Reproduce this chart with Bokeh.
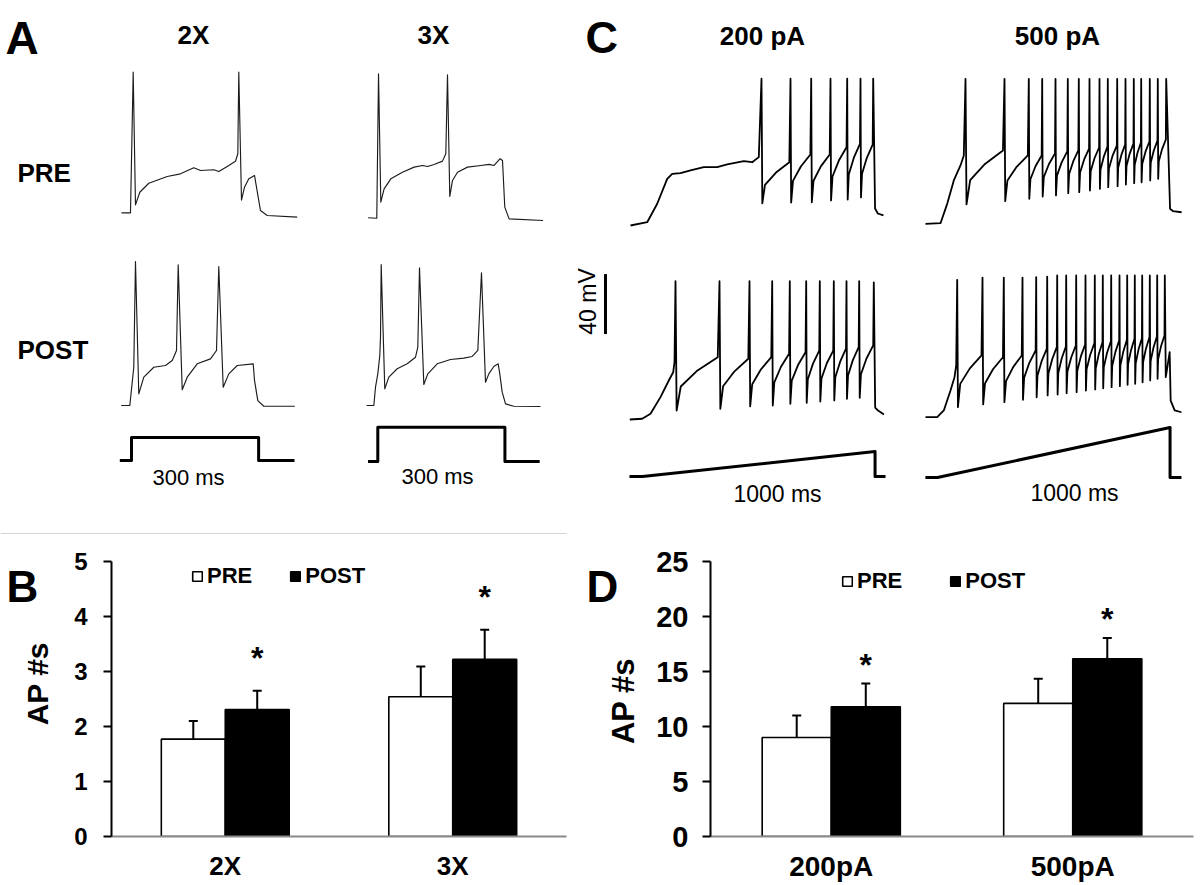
from bokeh.plotting import figure
from bokeh.models import (Range1d, FactorRange, Label, Legend, LegendItem,
                          ColumnDataSource, FixedTicker)
from bokeh.layouts import column, row
from bokeh.transform import dodge
from bokeh.core.properties import value
from bokeh.embed import file_html
from bokeh.resources import INLINE

FONT = "Liberation Sans"

# ====================== DATA ======================
# ---- Panel A: step-evoked firing (time ms from step onset, membrane potential mV)
a2x_pre_t = [-23.6, -2.4, 4.0, 9.4, 19.6, 40.8, 84.3, 115.6, 147.0, 162.8, 194.2, 206.0,
             225.9, 245.4, 250.9, 253.2, 259.6, 266.7, 276.8, 290.3, 295.0, 304.4, 320.3, 391.0]
a2x_pre_v = [-70.0, -70.0, 23.8, -64.7, -56.3, -50.3, -45.8, -44.0, -40.0, -41.8, -41.3, -42.5,
             -39.1, -35.6, -30.6, 23.8, -61.5, -52.9, -47.3, -45.1, -52.9, -68.5, -71.8, -72.9]

a3x_pre_t = [-22.9, -2.4, 1.7, 7.1, 14.9, 30.7, 58.3, 85.7, 105.5, 117.3, 132.9, 152.7, 160.5,
             164.5, 169.9, 176.3, 188.1, 211.7, 243.1, 262.7, 274.5, 288.6, 294.3, 299.7, 309.9, 390.1]
a3x_pre_v = [-70.0, -70.3, 26.0, -59.6, -50.7, -44.0, -39.6, -36.2, -35.1, -35.8, -34.4, -32.2, -27.3,
             25.4, -55.8, -45.1, -39.6, -36.2, -35.1, -34.4, -35.1, -30.6, -31.8, -62.9, -70.7, -71.8]

a2x_post_t = [-24.3, -4.0, 5.4, 9.4, 17.2, 29.0, 52.6, 80.2, 96.1, 106.2, 110.2, 119.7, 131.5,
              155.1, 186.4, 200.6, 206.0, 216.4, 229.6, 249.5, 287.2, 290.3, 298.1, 312.2, 385.4]
a2x_post_v = [-70.0, -70.0, -44.5, 26.0, -62.2, -51.1, -44.5, -43.3, -40.0, -33.3, 23.8, -59.5, -51.1,
              -42.2, -38.9, -33.3, 22.7, -57.8, -48.9, -43.3, -42.2, -53.3, -66.7, -70.5, -70.5]

a3x_post_t = [-26.7, -9.4, -5.4, 0.0, 4.7, 6.4, 8.0, 16.5, 26.0, 45.8, 69.4, 89.0, 94.4, 98.4,
              108.6, 118.0, 140.2, 171.6, 203.0, 222.8, 236.0, 244.7, 254.2, 262.0, 273.8, 284.1,
              287.9, 293.6, 301.4, 321.0, 384.0]
a3x_post_v = [-70.0, -70.0, -57.8, -48.9, -36.7, -24.4, 24.0, -58.9, -51.1, -45.5, -42.2, -37.8, -31.1, 21.8,
              -56.0, -48.9, -42.2, -39.3, -38.4, -37.3, -33.3, 18.5, -54.5, -48.9, -44.0, -42.2,
              -48.9, -61.1, -68.9, -70.5, -70.7]

# step stimulus (x rheobase)
step2x_t = [-27.6, 0, 0, 300, 300, 384.7]
step2x_i = [0, 0, 2, 2, 0, 0]
step3x_t = [-23.0, 0, 0, 300, 300, 382.0]
step3x_i = [0, 0, 3, 3, 0, 0]

# ---- Panel C: ramp-evoked firing
# 200 pA PRE
c200pre_lead_t = [-51.6, 20.2, 63.2, 106.2, 127.7, 163.4, 206.4, 263.6, 321.2, 364.2, 435.6, 471.7, 500.1]
c200pre_lead_v = [-70.0, -67.8, -55.5, -38.9, -35.5, -35.1, -33.3, -31.1, -31.1, -29.3, -27.1, -27.8, -24.4]
c200pre_spk_t = [511.7, 636.4, 725.4, 808.4, 880.2, 937.4, 992.0]
c200pre_peak = [28.0, 28.0, 28.0, 28.0, 28.0, 28.0, 28.0]
c200pre_trough = [-55.3, -54.7, -54.5, -53.3, -52.7, -51.3]
c200pre_thr = [-27.8, -22.6, -22.6, -17.8, -15.5, -16.0]
c200pre_tail_t = [1000.0, 1012.0, 1036.0]
c200pre_tail_v = [-58.7, -62.0, -63.3]

# 500 pA PRE
c500pre_lead_t = [-51.6, 12.9, 41.7, 70.1, 98.9, 113.1]
c500pre_lead_v = [-70.0, -69.6, -56.7, -41.1, -31.1, -24.4]
c500pre_spk_t = [120.4, 288.1, 392.6, 450.2, 507.4, 560.3, 607.6, 653.6, 696.6, 732.3, 772.7,
                 808.4, 844.1, 875.9, 912.9, 947.3, 983.4]
c500pre_peak = [26.7, 26.7, 26.7, 26.7, 26.7, 26.7, 26.7, 26.7, 26.7, 26.7, 26.7,
                26.7, 26.7, 26.7, 26.7, 26.7, 26.7]
c500pre_trough = [-57.1, -54.9, -53.3, -51.8, -51.1, -49.6, -48.9, -47.8, -46.7, -45.6, -44.9,
                  -43.8, -42.9, -42.3, -41.1, -40.0]
c500pre_thr = [-21.1, -24.4, -24.4, -23.1, -21.7, -21.1, -19.8, -19.1, -18.5, -17.8, -17.1,
               -16.5, -15.8, -15.1, -14.5, -13.8]
c500pre_tail_t = [1000.0, 1012.0, 1049.7]
c500pre_tail_v = [-60.0, -61.5, -62.3]

# 200 pA POST
c200post_lead_t = [-54.6, -1.3, 34.4, 77.4, 113.1, 132.0, 137.6]
c200post_lead_v = [-70.0, -69.5, -66.2, -55.1, -44.0, -38.5, -31.8]
c200post_spk_t = [141.9, 331.1, 460.1, 557.7, 633.4, 703.9, 762.4, 822.6, 877.2, 931.8, 994.6]
c200post_peak = [22.2, 22.2, 22.2, 22.2, 22.2, 22.2, 22.2, 22.2, 22.2, 22.2, 21.5]
c200post_trough = [-64.0, -62.9, -61.3, -60.7, -59.5, -58.9, -58.0, -57.3, -56.2, -55.5]
c200post_thr = [-28.4, -29.5, -28.4, -26.2, -25.1, -24.0, -24.0, -22.8, -21.8, -20.6]
c200post_tail_t = [1000.5, 1013.0, 1038.0]
c200post_tail_v = [-62.0, -64.0, -66.7]

# 500 pA POST
c500post_lead_t = [-51.6, -1.3, 27.1, 55.9, 73.1, 80.4]
c500post_lead_v = [-70.0, -70.0, -65.5, -52.2, -43.3, -35.5]
c500post_spk_t = [84.7, 193.5, 285.1, 365.5, 424.4, 471.7, 514.7, 553.4, 596.4, 636.4, 676.4,
                  710.8, 746.9, 782.6, 815.7, 848.4, 880.2, 912.9, 944.7, 977.4]
c500post_peak = [21.6, 23.0, 23.0, 23.0, 23.4, 23.8, 24.5, 24.5, 24.5, 24.5, 24.5,
                 24.5, 24.5, 24.5, 24.5, 24.5, 24.5, 24.5, 24.5, 24.5]
c500post_trough = [-63.3, -61.5, -60.0, -58.4, -56.7, -55.5, -54.9, -54.0, -53.3, -52.2, -51.5,
                   -50.7, -50.0, -49.3, -48.4, -47.7, -46.7, -45.5, -44.4]
c500post_thr = [-28.8, -30.0, -28.8, -25.5, -24.4, -23.3, -22.8, -22.2, -21.5, -20.6, -20.0,
                -19.3, -18.8, -18.4, -17.7, -17.3, -16.6, -16.2, -15.5]
c500post_tail_t = [981.5, 987.1, 998.3, 1002.6, 1019.8, 1049.0]
c500post_tail_v = [-43.3, -38.0, -26.6, -58.9, -65.5, -66.7]

# ramp stimulus (pA)
ramp200_t = [-56.0, 0, 1000, 1000, 1045]
ramp200_i = [0, 0, 200, 0, 0]
ramp500_t = [-52.0, 0, 1000, 1000, 1049]
ramp500_i = [0, 0, 500, 0, 0]

SCALEBAR_MV = 40

# ---- Panel B / D: AP counts (mean, SEM)
b_cats = ["2X", "3X"]
b_pre = [1.77, 2.54]
b_pre_err = [0.33, 0.55]
b_post = [2.31, 3.22]
b_post_err = [0.34, 0.54]
b_sig = ["*", "*"]

d_cats = ["200pA", "500pA"]
d_pre = [9.0, 12.1]
d_pre_err = [2.0, 2.25]
d_post = [11.8, 16.15]
d_post_err = [2.1, 1.9]
d_sig = ["*", "*"]

# ====================== LAYOUT GEOMETRY (page px) ======================
W, HT, HB = 1200, 535, 349


def spike_train(lead_t, lead_v, spk_t, peak, trough, thr, tail_t, tail_v):
    t, v = list(lead_t), list(lead_v)
    n = len(spk_t)
    for i in range(n):
        t.append(spk_t[i]); v.append(peak[i])
        if i < n - 1:
            isi = spk_t[i + 1] - spk_t[i]
            lo, hi = trough[i], thr[i]
            t += [spk_t[i] + 1 + 0.02 * isi, spk_t[i] + 0.12 * isi,
                  spk_t[i] + 0.5 * isi, spk_t[i + 1] - 0.04 * isi]
            v += [lo, lo + 0.45 * (hi - lo), lo + 0.75 * (hi - lo), hi]
    t += list(tail_t); v += list(tail_v)
    return t, v


def canvas(width, height, x0, y0):
    f = figure(width=width, height=height, x_range=Range1d(x0, x0 + width),
               y_range=Range1d(y0 + height, y0), output_backend="svg", toolbar_location=None,
               min_border=0, x_axis_location=None, y_axis_location=None, outline_line_color=None)
    f.xgrid.visible = False
    f.ygrid.visible = False
    return f


top = canvas(W, HT, 0, 0)

xr, yr = {}, {}


def add_x(name, X_on, ms_per_px):
    xr[name] = Range1d((0 - X_on) * ms_per_px, (W - X_on) * ms_per_px)


def add_y(name, Y_ref, v_ref, per_px):
    yr[name] = Range1d(v_ref + (Y_ref - HT) * per_px, v_ref + (Y_ref - 0) * per_px)


A_MS, C_MS, MVPX = 2.36, 4.3, 0.667
add_x("a2x", 131.0, A_MS)
add_x("a3x", 377.3, A_MS)
add_x("c200", 642.0, C_MS)
add_x("c500", 937.0, C_MS)
add_y("a2x_pre", 212.3, -70, MVPX)
add_y("a3x_pre", 217.3, -70, MVPX)
add_y("a2x_post", 405.0, -70, MVPX)
add_y("a3x_post", 405.0, -70, MVPX)
add_y("c200_pre", 225.0, -70, MVPX)
add_y("c500_pre", 223.3, -70, MVPX)
add_y("c200_post", 419.0, -70, MVPX)
add_y("c500_post", 416.7, -70, MVPX)
add_y("a2x_stim", 460.0, 0, 1 / 11.5)
add_y("a3x_stim", 461.0, 0, 1 / 11.4)
add_y("c200_stim", 476.0, 0, 8.0)
add_y("c500_stim", 477.0, 0, 10.0)
top.extra_x_ranges = xr
top.extra_y_ranges = yr

A_COL, A_W = "#1c1c1c", 1.15
C_COL, C_W = "#000000", 1.8


def trace(t, v, xn, yn, color, lw):
    top.line(t, v, x_range_name=xn, y_range_name=yn, line_color=color, line_width=lw,
             line_join="round")


trace(a2x_pre_t, a2x_pre_v, "a2x", "a2x_pre", A_COL, A_W)
trace(a3x_pre_t, a3x_pre_v, "a3x", "a3x_pre", A_COL, A_W)
trace(a2x_post_t, a2x_post_v, "a2x", "a2x_post", A_COL, A_W)
trace(a3x_post_t, a3x_post_v, "a3x", "a3x_post", A_COL, A_W)
trace(step2x_t, step2x_i, "a2x", "a2x_stim", "black", 3)
trace(step3x_t, step3x_i, "a3x", "a3x_stim", "black", 3)

for nm, xn, yn in [("c200pre", "c200", "c200_pre"), ("c500pre", "c500", "c500_pre"),
                   ("c200post", "c200", "c200_post"), ("c500post", "c500", "c500_post")]:
    g = globals()
    tt, vv = spike_train(g[nm + "_lead_t"], g[nm + "_lead_v"], g[nm + "_spk_t"], g[nm + "_peak"],
                         g[nm + "_trough"], g[nm + "_thr"], g[nm + "_tail_t"], g[nm + "_tail_v"])
    trace(tt, vv, xn, yn, C_COL, C_W)

trace(ramp200_t, ramp200_i, "c200", "c200_stim", "black", 3)
trace(ramp500_t, ramp500_i, "c500", "c500_stim", "black", 3)

# 40 mV scale bar
trace([-159, -159], [-13, -13 + SCALEBAR_MV], "c200", "c200_post", "black", 3)

# separator line
top.line([0, 566], [533, 533], line_color="#d4d4d4", line_width=1.2)


def lab(fig, x, y, text, size, bold=True, align="left", angle=0.0, baseline="alphabetic"):
    fig.add_layout(Label(x=x, y=y, text=text, text_font=FONT, text_font_size=size,
                         text_font_style="bold" if bold else "normal", text_align=align,
                         text_baseline=baseline, text_color="black", angle=angle))


lab(top, 5, 37, "A", "46px")
lab(top, 193, 34, "2X", "26px", align="center")
lab(top, 433, 34, "3X", "26px", align="center")
lab(top, 585, 37, "C", "45px")
lab(top, 762, 35, "200 pA", "26px", align="center")
lab(top, 1057, 35, "500 pA", "26px", align="center")
lab(top, 17, 172, "PRE", "26px")
lab(top, 17, 349, "POST", "26px")
lab(top, 188, 477, "300 ms", "22px", bold=False, align="center")
lab(top, 437, 476, "300 ms", "22px", bold=False, align="center")
lab(top, 777, 493, "1000 ms", "23px", bold=False, align="center")
lab(top, 1074, 492, "1000 ms", "23px", bold=False, align="center")
lab(top, 587, 301, "40 mV", "23px", bold=False, align="center", angle=1.5708)


# ====================== BAR CHARTS ======================
def bar_panel(cats, pre, pre_err, post, post_err, sig, ymax, yticks, width, borders,
              tick_fs, cat_fs, tl_standoff, bw, leg_loc, leg_spacing, star_off):
    bl, br, bt, bb = borders
    p = figure(width=width, height=HB, x_range=FactorRange(factors=cats, range_padding=0),
               y_range=Range1d(0, ymax), output_backend="svg", toolbar_location=None,
               min_border_left=bl, min_border_right=br, min_border_top=bt, min_border_bottom=bb)
    p.outline_line_color = None
    p.xgrid.visible = False
    p.ygrid.visible = False
    src = ColumnDataSource(dict(cat=cats, pre=pre, post=post,
                                pre_hi=[a + b for a, b in zip(pre, pre_err)],
                                post_hi=[a + b for a, b in zip(post, post_err)], sig=sig))
    off = bw / 2
    r_pre = p.vbar(x=dodge("cat", -off, range=p.x_range), top="pre", width=bw, source=src,
                   fill_color="white", line_color="black", line_width=1.6)
    r_post = p.vbar(x=dodge("cat", off, range=p.x_range), top="post", width=bw, source=src,
                    fill_color="black", line_color="black", line_width=1.6)
    for o, lo, hi in [(-off, "pre", "pre_hi"), (off, "post", "post_hi")]:
        p.segment(x0=dodge("cat", o, range=p.x_range), y0=lo, x1=dodge("cat", o, range=p.x_range),
                  y1=hi, source=src, line_color="black", line_width=2)
        p.scatter(x=dodge("cat", o, range=p.x_range), y=hi, marker="dash", size=9,
                  line_width=2, line_color="black", source=src)
    p.text(x=dodge("cat", off, range=p.x_range), y="post_hi", text="sig", source=src,
           text_font=value(FONT), text_font_style="bold", text_font_size="32px",
           text_align="center", text_baseline="alphabetic", y_offset=star_off, text_color="black")

    ya = p.yaxis[0]
    ya.ticker = FixedTicker(ticks=yticks)
    ya.axis_line_color = "black"
    ya.axis_line_width = 2
    ya.major_tick_line_color = "black"
    ya.major_tick_line_width = 2
    ya.major_tick_out = 8
    ya.major_tick_in = 0
    ya.minor_tick_out = 0
    ya.minor_tick_in = 0
    ya.major_label_text_font = FONT
    ya.major_label_text_font_style = "bold"
    ya.major_label_text_font_size = tick_fs
    ya.major_label_text_color = "black"
    ya.major_label_standoff = tl_standoff

    xa = p.xaxis[0]
    xa.axis_line_color = "#8a8a8a"
    xa.axis_line_width = 2
    xa.major_tick_out = 0
    xa.major_tick_in = 0
    xa.major_tick_line_color = None
    xa.major_label_text_font = FONT
    xa.major_label_text_font_style = "bold"
    xa.major_label_text_font_size = cat_fs
    xa.major_label_text_color = "black"
    xa.major_label_standoff = 14

    leg = Legend(items=[LegendItem(label="PRE", renderers=[r_pre]),
                        LegendItem(label="POST", renderers=[r_post])],
                 orientation="horizontal", location=leg_loc, glyph_width=12, glyph_height=12,
                 label_standoff=4, spacing=leg_spacing, padding=0, margin=0,
                 border_line_color=None, background_fill_alpha=0, label_height=12,
                 label_text_font=FONT, label_text_font_style="bold", label_text_font_size="22px",
                 label_text_color="black")
    p.add_layout(leg)
    return p


# strips carrying the panel letters and the y-axis titles
sB = canvas(60, HB, 0, HT)
lab(sB, 6, 567, "B", "44px")
lab(sB, 37, 690, "AP #s", "30px", align="center", angle=1.5708, baseline="middle")

pB = bar_panel(b_cats, b_pre, b_pre_err, b_post, b_post_err, b_sig, 5, [0, 1, 2, 3, 4, 5],
               520, (51, 14, 20, 46), "24px", "26px", 16, 0.281, (80, 247), 37, -33)

sD = canvas(60, HB, 580, HT)
lab(sD, 586, 567, "D", "44px")
lab(sD, 623, 712, "AP #s", "31px", align="center", angle=1.5708, baseline="middle")

pD = bar_panel(d_cats, d_pre, d_pre_err, d_post, d_post_err, d_sig, 25, [0, 5, 10, 15, 20, 25],
               560, (70, 7, 26, 46), "29px", "28px", 14, 0.286, (131, 242), 47, -19)

layout = column(top, row(sB, pB, sD, pD, spacing=0), spacing=0)
open("out.html", "w").write(file_html(layout, INLINE))
